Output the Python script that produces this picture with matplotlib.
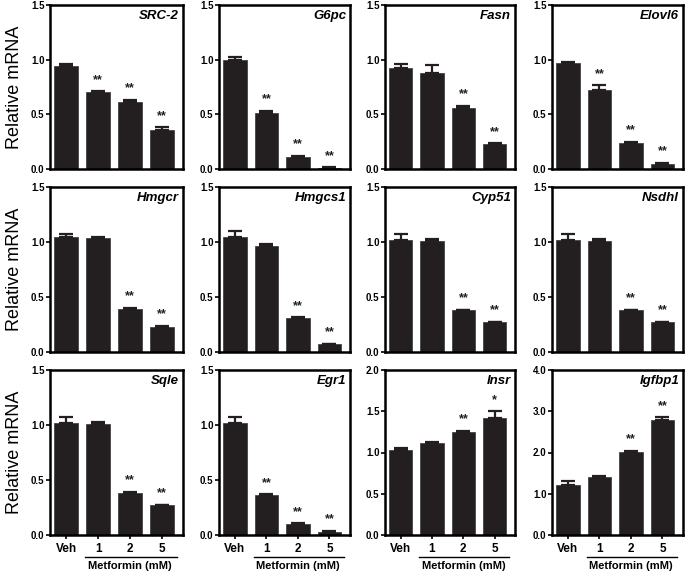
import numpy as np
import matplotlib.pyplot as plt
import matplotlib.transforms as mtrans

plt.rcParams['font.family'] = ['Liberation Sans', 'DejaVu Sans']

############################### DATA ###############################

doses = ['Veh', '1', '2', '5']

genes = ['SRC-2', 'G6pc', 'Fasn', 'Elovl6',
         'Hmgcr', 'Hmgcs1', 'Cyp51', 'Nsdhl',
         'Sqle', 'Egr1', 'Insr', 'Igfbp1']

means = [[0.94, 0.70, 0.61, 0.36],
         [1.00, 0.51, 0.11, 0.01],
         [0.92, 0.88, 0.56, 0.23],
         [0.97, 0.72, 0.24, 0.05],
         [1.05, 1.04, 0.39, 0.23],
         [1.05, 0.96, 0.31, 0.07],
         [1.02, 1.01, 0.38, 0.27],
         [1.02, 1.01, 0.38, 0.27],
         [1.02, 1.01, 0.38, 0.27],
         [1.02, 0.36, 0.10, 0.03],
         [1.03, 1.11, 1.25, 1.42],
         [1.22, 1.40, 2.02, 2.80]]

errs = [[0.02, 0.01, 0.02, 0.02],
        [0.02, 0.02, 0.01, 0.005],
        [0.04, 0.07, 0.02, 0.005],
        [0.01, 0.045, 0.01, 0.005],
        [0.025, 0.01, 0.01, 0.005],
        [0.05, 0.02, 0.005, 0.005],
        [0.05, 0.02, 0.005, 0.005],
        [0.05, 0.02, 0.005, 0.005],
        [0.05, 0.02, 0.01, 0.005],
        [0.05, 0.01, 0.005, 0.005],
        [0.02, 0.02, 0.01, 0.08],
        [0.09, 0.04, 0.02, 0.05]]

stars = [['', '**', '**', '**'],
         ['', '**', '**', '**'],
         ['', '', '**', '**'],
         ['', '**', '**', '**'],
         ['', '', '**', '**'],
         ['', '', '**', '**'],
         ['', '', '**', '**'],
         ['', '', '**', '**'],
         ['', '', '**', '**'],
         ['', '**', '**', '**'],
         ['', '', '**', '*'],
         ['', '', '**', '**']]

ymax = [1.5] * 10 + [2.0, 4.0]
yticks = [[0, 0.5, 1.0, 1.5]] * 10 + [[0, 0.5, 1.0, 1.5, 2.0], [0, 1, 2, 3, 4]]

############################### PLOT ###############################

W, H = 685, 574
fig = plt.figure(figsize=(W / 100, H / 100), dpi=100)

col_x = [(50, 183), (219, 350), (385, 515), (552, 683)]
row_y = [(5, 169), (187, 352), (370, 535)]
barcol = '#231f20'

for i, g in enumerate(genes):
    r, c = divmod(i, 4)
    x0, x1 = col_x[c]
    y0, y1 = row_y[r]
    ax = fig.add_axes([x0 / W, 1 - y1 / H, (x1 - x0) / W, (y1 - y0) / H])
    x = np.arange(4)
    ax.bar(x, means[i], width=0.75, color=barcol, edgecolor='#444444', linewidth=0.6)
    ax.errorbar(x, means[i], yerr=[np.zeros(4), errs[i]], fmt='none',
                ecolor=barcol, elinewidth=1.6, capsize=5, capthick=1.6)
    # significance marks above each bar
    for j in range(4):
        if stars[i][j]:
            ax.text(j, means[i][j] + errs[i][j] + ymax[i] * 0.07, stars[i][j],
                    ha='center', va='center', fontsize=9, fontweight='bold', color='#222222')
    ax.set_xlim(-0.5, 3.65)
    ax.set_ylim(0, ymax[i])
    ax.set_yticks(yticks[i])
    ax.set_yticklabels(['%.1f' % v for v in yticks[i]])
    ax.tick_params(axis='y', length=3, width=1.2, labelsize=7, pad=1)
    for lab in ax.get_yticklabels():
        lab.set_fontweight('bold')
    for s in ax.spines.values():
        s.set_linewidth(1.8)
    ax.text(0.97, 0.97, g, transform=ax.transAxes, ha='right', va='top',
            fontsize=9.5, fontweight='bold', fontstyle='italic')
    if r < 2:
        ax.set_xticks([])
    else:
        ax.set_xticks(x)
        ax.set_xticklabels(doses, fontsize=8.5, fontweight='bold')
        ax.tick_params(axis='x', length=3, width=1.2, pad=3)
        trans = mtrans.blended_transform_factory(ax.transData, ax.transAxes)
        ax.plot([0.6, 3.45], [-0.135, -0.135], color='black', lw=1.0,
                transform=trans, clip_on=False)
        ax.text(2.0, -0.158, 'Metformin (mM)', transform=trans, ha='center',
                va='top', fontsize=8, fontweight='bold')
    if c == 0:
        ax.set_ylabel('Relative mRNA', fontsize=13, labelpad=6)

fig.savefig('out.png', dpi=100)
